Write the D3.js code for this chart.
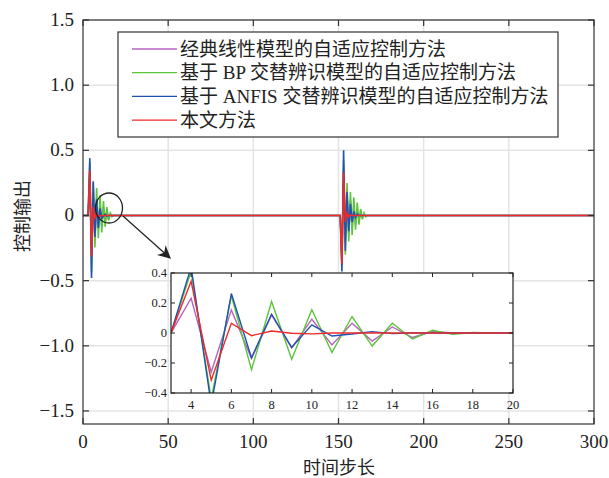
<!DOCTYPE html>
<meta charset="utf-8">
<script src="https://d3js.org/d3.v7.min.js"></script>
<style>
  body { margin: 0; background: #fff; }
  text { font-family: "Liberation Serif", "Noto Sans CJK SC", serif; fill: #222; }
</style>
<body>
<div id="chart"></div>
<script>
// data: [time step, control output]
var purple = [[0,0],[3,0],[4,0.232],[5,-0.26],[6,0.154],[7,-0.17],[8,0.12],[9,-0.10],[10,0.092],[11,-0.08],[12,0.065],[13,-0.054],[14,0.04],[15,-0.03],[16,0.01],[17,0],[151,0],[152,-0.3],[153,0.35],[154,-0.2],[155,0.17],[156,-0.14],[157,0.12],[158,-0.1],[159,0.08],[160,-0.065],[161,0.05],[162,-0.04],[163,0.03],[164,-0.015],[165,0.005],[166,0],[300,0]]
var green = [[0,0],[3,0],[4,0.41],[5,-0.44],[6,0.25],[7,-0.245],[8,0.21],[9,-0.175],[10,0.155],[11,-0.13],[12,0.11],[13,-0.087],[14,0.065],[15,-0.04],[16,0.018],[17,-0.009],[18,0.003],[19,0],[151,0],[152,-0.38],[153,0.42],[154,-0.3],[155,0.25],[156,-0.2],[157,0.18],[158,-0.15],[159,0.14],[160,-0.11],[161,0.1],[162,-0.07],[163,0.05],[164,-0.03],[165,0.02],[166,-0.01],[167,0],[300,0]]
var blue = [[0,0],[3,0],[4,0.44],[5,-0.48],[6,0.263],[7,-0.165],[8,0.125],[9,-0.095],[10,0.054],[11,-0.02],[12,-0.007],[13,0.009],[14,-0.004],[15,0],[151,0],[152,-0.43],[153,0.5],[154,-0.27],[155,0.18],[156,-0.12],[157,0.09],[158,-0.05],[159,0.03],[160,-0.015],[161,0.01],[162,0],[300,0]]
var red = [[0,0],[3,0],[4,0.345],[5,-0.315],[6,0.065],[7,-0.018],[8,0.013],[9,-0.002],[10,-0.006],[11,0],[151,0],[152,-0.37],[153,0.33],[154,-0.05],[155,0.02],[156,-0.01],[157,0.005],[158,0],[300,0]]

var seriesNames = ["经典线性模型的自适应控制方法", "基于 BP 交替辨识模型的自适应控制方法", "基于 ANFIS 交替辨识模型的自适应控制方法", "本文方法"]
var seriesColors = ["#b565c0", "#5cc43a", "#2152b0", "#f02a2a"]
var seriesData = [purple, green, blue, red]

var xTicks = [0, 50, 100, 150, 200, 250, 300]
var yTicks = [-1.5, -1.0, -0.5, 0, 0.5, 1.0, 1.5]
var yTickLabels = ["\u22121.5", "\u22121.0", "\u22120.5", "0", "0.5", "1.0", "1.5"]
var insetXTicks = [4, 6, 8, 10, 12, 14, 16, 18, 20]
var insetYTicks = [-0.4, -0.2, 0, 0.2, 0.4]
var insetYTickLabels = ["\u22120.4", "\u22120.2", "0", "0.2", "0.4"]

var W = 609, H = 478
var svg = d3.select("#chart").append("svg").attr("width", W).attr("height", H)
var defs = svg.append("defs")

var x = d3.scaleLinear().domain([0, 300]).range([83, 594])
var y = d3.scaleLinear().domain([-1.6, 1.5]).range([424, 20])

// grid
svg.append("g").selectAll("line").data(xTicks.slice(1, -1)).enter().append("line")
  .attr("x1", x).attr("x2", x).attr("y1", y(1.5)).attr("y2", y(-1.6))
  .attr("stroke", "#e4e4e4").attr("stroke-width", 1.5)
svg.append("g").selectAll("line").data(yTicks).enter().append("line")
  .attr("x1", x(0)).attr("x2", x(300)).attr("y1", y).attr("y2", y)
  .attr("stroke", "#e4e4e4").attr("stroke-width", 1.5)

// lines
var line = d3.line().x(function (d) { return x(d[0]) }).y(function (d) { return y(d[1]) })
seriesData.forEach(function (s, i) {
  svg.append("path").datum(s).attr("d", line)
    .attr("fill", "none").attr("stroke", seriesColors[i]).attr("stroke-width", 1.6)
})

// frame and inward ticks
svg.append("rect").attr("x", x(0)).attr("y", y(1.5)).attr("width", x(300) - x(0)).attr("height", y(-1.6) - y(1.5))
  .attr("fill", "none").attr("stroke", "#333").attr("stroke-width", 1.2)
var tk = svg.append("g").attr("stroke", "#333").attr("stroke-width", 1.2)
xTicks.forEach(function (t) {
  tk.append("line").attr("x1", x(t)).attr("x2", x(t)).attr("y1", y(-1.6)).attr("y2", y(-1.6) - 6)
  tk.append("line").attr("x1", x(t)).attr("x2", x(t)).attr("y1", y(1.5)).attr("y2", y(1.5) + 6)
})
yTicks.forEach(function (t) {
  tk.append("line").attr("x1", x(0)).attr("x2", x(0) + 6).attr("y1", y(t)).attr("y2", y(t))
  tk.append("line").attr("x1", x(300)).attr("x2", x(300) - 6).attr("y1", y(t)).attr("y2", y(t))
})
svg.append("g").selectAll("text").data(xTicks).enter().append("text")
  .attr("x", x).attr("y", 448).attr("text-anchor", "middle").attr("font-size", 19)
  .text(function (d) { return d })
svg.append("g").selectAll("text").data(yTicks).enter().append("text")
  .attr("x", 74).attr("y", function (d) { return y(d) + 6 }).attr("text-anchor", "end").attr("font-size", 19)
  .text(function (d, i) { return yTickLabels[i] })

svg.append("text").attr("x", 339).attr("y", 474).attr("text-anchor", "middle").attr("font-size", 18).text("时间步长")
svg.append("text").attr("transform", "translate(29,216) rotate(-90)").attr("text-anchor", "middle").attr("font-size", 18).text("控制输出")

// legend
var lg = svg.append("g")
lg.append("rect").attr("x", 118).attr("y", 32).attr("width", 440).attr("height", 105)
  .attr("fill", "#fff").attr("stroke", "#333").attr("stroke-width", 1.2)
seriesNames.forEach(function (n, i) {
  var yy = 49 + i * 23.7
  lg.append("line").attr("x1", 132).attr("x2", 177).attr("y1", yy).attr("y2", yy)
    .attr("stroke", seriesColors[i]).attr("stroke-width", 1.3)
  lg.append("text").attr("x", 180).attr("y", yy + 6.5).attr("font-size", 19).text(n)
})

// zoom marker and arrow
svg.append("ellipse").attr("cx", 109).attr("cy", 208).attr("rx", 13.5).attr("ry", 15)
  .attr("fill", "none").attr("stroke", "#222").attr("stroke-width", 1.3)
defs.append("marker").attr("id", "ah").attr("viewBox", "0 0 10 10")
  .attr("refX", 9).attr("refY", 5).attr("markerWidth", 13).attr("markerHeight", 13)
  .attr("markerUnits", "userSpaceOnUse").attr("orient", "auto")
  .append("path").attr("d", "M0,0 L10,5 L0,10 L3,5 Z").attr("fill", "#222")
svg.append("line").attr("x1", 123).attr("y1", 216).attr("x2", 170).attr("y2", 258)
  .attr("stroke", "#222").attr("stroke-width", 1.3).attr("marker-end", "url(#ah)")

// inset
var ix = d3.scaleLinear().domain([3, 20]).range([171, 513])
var iy = d3.scaleLinear().domain([-0.4, 0.4]).range([393, 273])
var ins = svg.append("g")
ins.append("rect").attr("x", 171).attr("y", 273).attr("width", 342).attr("height", 120).attr("fill", "#fff")
defs.append("clipPath").attr("id", "ic").append("rect")
  .attr("x", 171).attr("y", 273).attr("width", 342).attr("height", 120)
var iline = d3.line().x(function (d) { return ix(d[0]) }).y(function (d) { return iy(d[1]) })
var ilines = ins.append("g").attr("clip-path", "url(#ic)")
seriesData.forEach(function (s, i) {
  ilines.append("path").datum(s.filter(function (d) { return d[0] <= 151 })).attr("d", iline)
    .attr("fill", "none").attr("stroke", seriesColors[i]).attr("stroke-width", 1.4)
})
ins.append("rect").attr("x", 171).attr("y", 273).attr("width", 342).attr("height", 120)
  .attr("fill", "none").attr("stroke", "#222").attr("stroke-width", 1.2)
var itk = ins.append("g").attr("stroke", "#222").attr("stroke-width", 1)
insetXTicks.forEach(function (t) {
  itk.append("line").attr("x1", ix(t)).attr("x2", ix(t)).attr("y1", 393).attr("y2", 389)
  itk.append("line").attr("x1", ix(t)).attr("x2", ix(t)).attr("y1", 273).attr("y2", 277)
})
insetYTicks.forEach(function (t) {
  itk.append("line").attr("x1", 171).attr("x2", 175).attr("y1", iy(t)).attr("y2", iy(t))
  itk.append("line").attr("x1", 513).attr("x2", 509).attr("y1", iy(t)).attr("y2", iy(t))
})
ins.append("g").selectAll("text").data(insetXTicks).enter().append("text")
  .attr("x", ix).attr("y", 409).attr("text-anchor", "middle").attr("font-size", 12.5)
  .text(function (d) { return d })
ins.append("g").selectAll("text").data(insetYTicks).enter().append("text")
  .attr("x", 167).attr("y", function (d) { return iy(d) + 4 }).attr("text-anchor", "end").attr("font-size", 12.5)
  .text(function (d, i) { return insetYTickLabels[i] })
</script>
</body>
